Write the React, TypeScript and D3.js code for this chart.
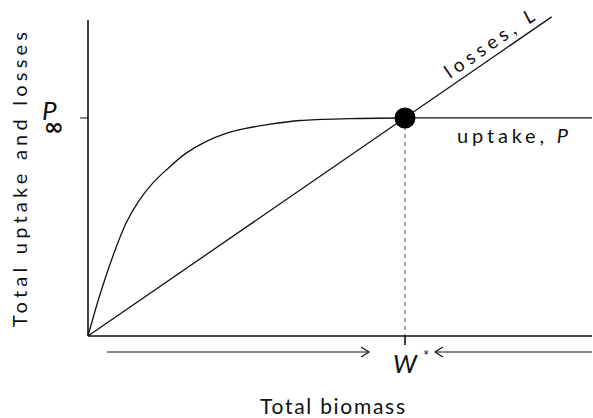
import React from 'react';
import * as d3 from 'd3';

// uptake curve (x: biomass, y: uptake, both on a 0..100 scale)
const uptakeX = [0, 2.24, 4.9, 7.54, 10.2, 12.8, 15.5, 19.4, 23.4, 27.4, 31.3, 35.3, 42.1, 52, 62.9, 100];
const uptakeY = [0, 12.4, 25.1, 35.7, 43.0, 48.3, 52.5, 57.8, 61.5, 64.1, 65.7, 66.8, 68.2, 68.8, 69.0, 69.0];
const lossesX = [0, 92];
const lossesY = [0, 101];
const pInf = 69.0;
const wStar = 62.9;

const W = 593;
const H = 418;
const margin = { left: 88, right: 1, top: 20, bottom: 82 };
const font = 'Lato, "DejaVu Sans", sans-serif';

export default function App() {
  const x = d3.scaleLinear().domain([0, 100]).range([margin.left, W - margin.right]);
  const y = d3.scaleLinear().domain([0, 100]).range([H - margin.bottom, margin.top]);

  const line = d3.line<[number, number]>().x(d => x(d[0])).y(d => y(d[1]));
  const smooth = d3.line<[number, number]>().x(d => x(d[0])).y(d => y(d[1])).curve(d3.curveCatmullRom.alpha(0.5));
  const uptake = uptakeX.map((v, i) => [v, uptakeY[i]] as [number, number]);
  const losses = lossesX.map((v, i) => [v, lossesY[i]] as [number, number]);

  const x0 = x(0), y0 = y(0);
  const wx = x(wStar), py = y(pInf);
  const arrowY = y0 + 16;
  const angle = (Math.atan2(y(lossesY[1]) - y0, x(lossesX[1]) - x0) * 180) / Math.PI;

  return (
    <svg width={W} height={H} style={{ position: 'absolute', left: 0, top: 0, background: '#fff' }}>
      <g stroke="#111" fill="none" strokeWidth={1.3}>
        {/* axes */}
        <line x1={x0} y1={y(100)} x2={x0} y2={y0} strokeWidth={1.6} />
        <line x1={x0} y1={y0} x2={x(100)} y2={y0} strokeWidth={1.6} />
        <line x1={x0 - 8} y1={py} x2={x0} y2={py} strokeWidth={1} />
        <line x1={wx} y1={y0} x2={wx} y2={y0 + 9} strokeWidth={1.6} />
        {/* curves */}
        <path d={smooth(uptake) || ''} />
        <path d={line(losses) || ''} />
        <line x1={wx} y1={py} x2={wx} y2={y0} strokeWidth={0.8} strokeDasharray="4,4" />
        {/* arrows */}
        <line x1={x0 + 19} y1={arrowY} x2={wx - 36} y2={arrowY} strokeWidth={1} />
        <path d={`M${wx - 44},${arrowY - 5} L${wx - 36},${arrowY} L${wx - 44},${arrowY + 5}`} strokeWidth={1.2} />
        <line x1={wx + 30} y1={arrowY} x2={x(100)} y2={arrowY} strokeWidth={1} />
        <path d={`M${wx + 38},${arrowY - 5} L${wx + 30},${arrowY} L${wx + 38},${arrowY + 5}`} strokeWidth={1.2} />
      </g>
      <circle cx={wx} cy={py} r={10.5} fill="#000" />

      {/* labels */}
      <g fontFamily={font} fill="#111">
        <text x={wx - 12} y={arrowY + 21} fontSize={25} fontStyle="italic">
          W<tspan dx={6} dy={-12} fontSize={15} fontStyle="normal">*</tspan>
        </text>
        <text x={42} y={py + 2} fontSize={26} fontStyle="italic">
          P<tspan dx={-13} dy={15} fontSize={24} fontStyle="normal" fontWeight="bold" fontFamily='"DejaVu Sans", sans-serif'>∞</tspan>
        </text>
        <text x={457} y={py + 25} fontSize={20} textLength={111} lengthAdjust="spacing">
          uptake, <tspan fontStyle="italic">P</tspan>
        </text>
        <text transform={`translate(450,79) rotate(${angle})`} fontSize={19} textLength={105} lengthAdjust="spacing">
          losses, <tspan fontStyle="italic">L</tspan>
        </text>
        <text x={260} y={414} fontSize={21} textLength={145} lengthAdjust="spacing">Total biomass</text>
        <text transform={`translate(27,327) rotate(-90)`} fontSize={20} textLength={295} lengthAdjust="spacing">
          Total uptake and losses
        </text>
      </g>
    </svg>
  );
}
